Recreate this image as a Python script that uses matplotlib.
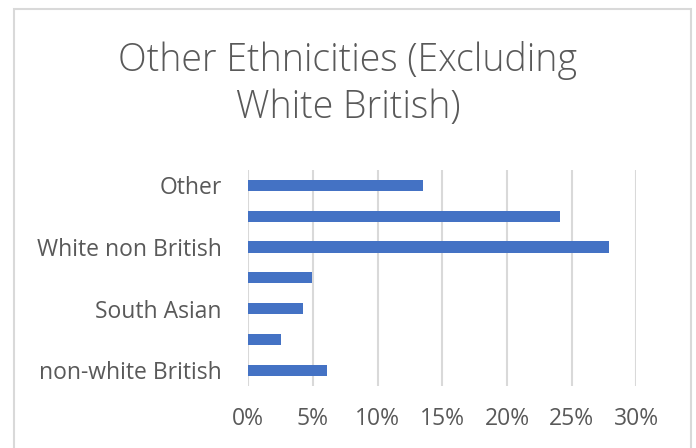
import matplotlib.pyplot as plt
from matplotlib.patches import Rectangle
from matplotlib.ticker import PercentFormatter

# Share of each group, bottom to top
categories = ["non-white British", "", "South Asian", "", "White non British", "", "Other"]
shares = [6.1, 2.5, 4.2, 4.9, 27.9, 24.1, 13.5]
x_ticks = [0, 5, 10, 15, 20, 25, 30]

text_grey = "#595959"
bar_blue = "#4472C4"
grid_grey = "#D9D9D9"

plt.rcParams["font.family"] = ["Open Sans", "DejaVu Sans"]

W, H = 696, 448
fig = plt.figure(figsize=(W / 100, H / 100), dpi=100)

# chart area border
fig.patches.append(Rectangle((14 / W, -0.05), (691 - 14) / W, 1 - 9 / H + 0.05,
                             transform=fig.transFigure, fill=False,
                             edgecolor=grid_grey, linewidth=1.5))

left, right, top, bottom = 248.3, 636.3, 170, 385.7
ax = fig.add_axes([left / W, 1 - bottom / H, (right - left) / W, (bottom - top) / H])

pos = range(len(categories))
ax.barh(pos, shares, height=0.36, color=bar_blue, zorder=3)

ax.set_xlim(0, 30)
ax.set_ylim(-0.5, len(categories) - 0.5)
ax.set_xticks(x_ticks)
ax.xaxis.set_major_formatter(PercentFormatter(decimals=0))
ax.set_yticks(list(pos))
ax.set_yticklabels(categories)

ax.grid(axis="x", color=grid_grey, linewidth=1.5, zorder=0)
for s in ax.spines.values():
    s.set_visible(False)
ax.tick_params(axis="both", length=0, labelsize=16.5, colors=text_grey)
ax.tick_params(axis="x", pad=15)
ax.tick_params(axis="y", pad=19)

fig.text(0.5, 1 - 84 / H, "Other Ethnicities (Excluding\nWhite British)",
         ha="center", va="center", fontsize=27, color=text_grey,
         linespacing=1.3, fontweight="light")

fig.savefig("out.png", dpi=100)
